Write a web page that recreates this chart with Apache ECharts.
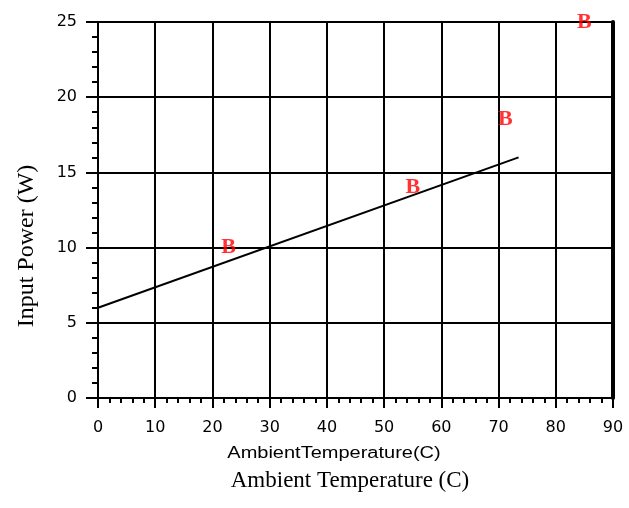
<!DOCTYPE html>
<html><head><meta charset="utf-8">
<script src="https://cdn.jsdelivr.net/npm/echarts@6/dist/echarts.min.js"></script>
<style>html,body{margin:0;padding:0;background:#fff}#c{width:629px;height:508px}</style>
</head><body><div id="c"></div>
<script>
var xTicks = [0,10,20,30,40,50,60,70,80,90];
var yTicks = [0,5,10,15,20,25];
var pointsX = [22.8, 55, 71.2, 85];
var pointsY = [10, 14, 18.5, 25];
var fitX = [0, 73.5];
var fitY = [6, 16];
var xTitle1 = 'AmbientTemperature(C)';
var xTitle2 = 'Ambient Temperature (C)';
var yTitle = 'Input Power (W)';

var chart = echarts.init(document.getElementById('c'), null, {renderer:'canvas'});
var black = '#000';
chart.setOption({
  animation:false,
  backgroundColor:'#fff',
  grid:{left:98,right:16,top:22,bottom:110,containLabel:false},
  xAxis:{type:'value',min:0,max:90,interval:10,
    axisLine:{show:true,onZero:false,lineStyle:{color:black,width:2}},
    axisTick:{show:true,inside:false,length:10,lineStyle:{color:black,width:2}},
    minorTick:{show:true,splitNumber:5,length:5,lineStyle:{color:black,width:2}},
    splitLine:{show:true,lineStyle:{color:black,width:2}},
    axisLabel:{margin:22,color:black,fontFamily:'DejaVu Sans',fontSize:16}
  },
  yAxis:[{type:'value',min:0,max:25,interval:5,
    axisLine:{show:true,onZero:false,lineStyle:{color:black,width:2}},
    axisTick:{show:true,inside:false,length:12,lineStyle:{color:black,width:2}},
    minorTick:{show:true,splitNumber:5,length:6,lineStyle:{color:black,width:2}},
    splitLine:{show:true,lineStyle:{color:black,width:2}},
    axisLabel:{margin:21,color:black,fontFamily:'DejaVu Sans',fontSize:16}
  },{type:'value',min:0,max:25,position:'right',
    axisLine:{show:true,onZero:false,lineStyle:{color:black,width:4}},
    axisTick:{show:false},axisLabel:{show:false},splitLine:{show:false}
  }],
  series:[
    {type:'line',data:fitX.map(function(x,i){return [x,fitY[i]];}),symbol:'none',
     lineStyle:{color:black,width:2},z:3},
    {type:'scatter',data:pointsX.map(function(x,i){return [x,pointsY[i]];}),
     symbolSize:1,itemStyle:{color:'rgba(0,0,0,0)'},
     label:{show:true,position:'inside',formatter:'B',color:'#ff0000',
       fontFamily:'Liberation Serif',fontWeight:'bold',fontSize:22},z:4}
  ],
  graphic:[
    {type:'text',x:334,y:454,scaleX:1.25,style:{text:xTitle1,x:0,y:0,align:'center',verticalAlign:'middle',
      font:'16px "Liberation Sans"',fill:black}},
    {type:'text',style:{text:xTitle2,x:350,y:481,align:'center',verticalAlign:'middle',
      font:'23px "Liberation Serif"',fill:black}},
    {type:'text',x:27,y:246,rotation:Math.PI/2,style:{text:yTitle,x:0,y:0,align:'center',verticalAlign:'middle',
      font:'24px "Liberation Serif"',fill:black}}
  ]
});
</script></body></html>
